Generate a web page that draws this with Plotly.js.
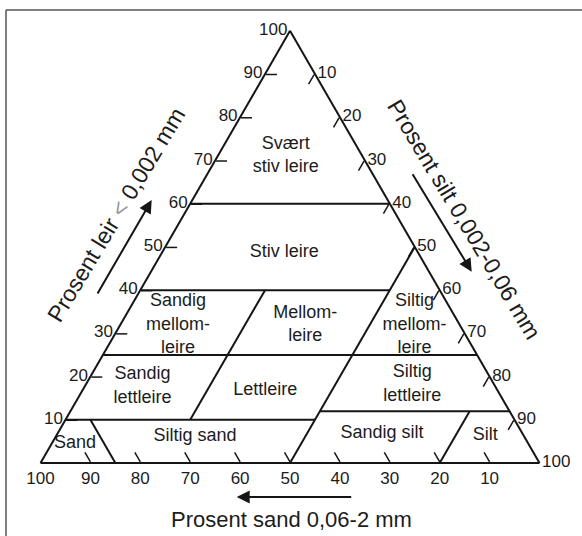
<!DOCTYPE html>
<html><head><meta charset="utf-8">
<script src="https://cdn.plot.ly/plotly-3.0.1.min.js"></script>
<style>html,body{margin:0;padding:0;background:#fff}#chart{width:582px;height:536px}</style>
</head><body><div id="chart"></div>
<script>
// Class boundary segments as (clay, sand, silt); null separates segments
const boundaryClay = [60,60,null, 40,40,null, 25,25,null, 10,10,null, 12,12,null, 40,10,null, 50,0,null, 10,0,null, 12,0];
const boundarySand = [40,0,null, 60,10,null, 75,0,null, 90,40,null, 38,0,null, 35,65,null, 0,50,null, 85,85,null, 8,20];
const boundarySilt = [0,40,null, 0,50,null, 0,75,null, 0,50,null, 50,88,null, 25,25,null, 50,50,null, 5,15,null, 80,80];

// Class names and their label positions (clay, sand, silt)
const classNames = ["Svært<br>stiv leire","Stiv leire","Sandig<br>mellom-<br>leire","Mellom-<br>leire","Siltig<br>mellom-<br>leire","Sandig<br>lettleire","Lettleire","Siltig<br>lettleire","Sand","Siltig sand","Sandig silt","Silt"];
const labelClay = [71.1,48.7,31.9,31.9,31.9,17.7,16.7,18.2,4.5,6.1,6.9,6.3];
const labelSand = [15.3,26.8,56.5,31.0,9.1,70.7,46.6,16.4,90.85,66.0,28.1,7.7];
const labelSilt = [13.6,24.5,11.6,37.1,59.0,11.6,36.7,65.4,4.65,27.9,65.0,86.0];

// Tick values
const clayTicks = [10,20,30,40,50,60,70,80,90,100];
const sandTicks = [100,90,80,70,60,50,40,30,20,10];
const siltTicks = [10,20,30,40,50,60,70,80,90,100];

// Titles
const clayTitle = 'Prosent leir <span style="color:#999">&lt;</span> 0,002 mm';
const siltTitle = 'Prosent silt 0,002-0,06 mm';
const sandTitle = 'Prosent sand 0,06-2 mm';

const FONT = 'Liberation Sans, Arial, Helvetica, sans-serif';
const INK = '#1c1c1c';
const W = 582, H = 536;
const px = x => x / W;
const py = y => 1 - y / H;

const traces = [
  {type:'scatterternary', mode:'lines', a:boundaryClay, b:boundarySand, c:boundarySilt,
   line:{color:'#151515', width:2}, hoverinfo:'skip', showlegend:false, connectgaps:false},
  {type:'scatterternary', mode:'text', a:labelClay, b:labelSand, c:labelSilt, text:classNames,
   textfont:{family:FONT, size:18, color:INK}, textposition:'middle center', hoverinfo:'skip', showlegend:false}
];

function axis(vals){
  return {tickmode:'array', tickvals:vals, ticks:'inside', ticklen:11, tickwidth:1.5, tickcolor:'#151515',
    showgrid:false, showline:true, linecolor:'#151515', linewidth:2,
    tickfont:{family:FONT, size:17, color:INK}, title:{text:''}};
}

const layout = {
  width:W, height:H, margin:{l:0,r:0,t:0,b:0}, paper_bgcolor:'#fff', showlegend:false,
  font:{family:FONT},
  ternary:{sum:100, bgcolor:'rgba(0,0,0,0)',
    domain:{x:[0.0696,0.9270], y:[0.1362,0.9424]},
    aaxis:axis(clayTicks), baxis:axis(sandTicks), caxis:axis(siltTicks)},
  shapes:[
    {type:'line', xref:'paper', yref:'paper', x0:px(6), x1:1.05, y0:py(10), y1:py(10), line:{color:'#555', width:1.5}},
    {type:'line', xref:'paper', yref:'paper', x0:px(6), x1:px(6), y0:py(10), y1:-0.05, line:{color:'#555', width:1.5}}
  ],
  annotations:[
    {xref:'paper', yref:'paper', x:px(151.7), y:py(200), ax:-55, ay:95, text:'', showarrow:true, arrowhead:2, arrowsize:1.3, arrowwidth:2, arrowcolor:'#151515', standoff:0},
    {xref:'paper', yref:'paper', x:px(471.7), y:py(271.7), ax:-60, ay:-99, text:'', showarrow:true, arrowhead:2, arrowsize:1.3, arrowwidth:2, arrowcolor:'#151515', standoff:0},
    {xref:'paper', yref:'paper', x:px(236.7), y:py(497), ax:116, ay:0, text:'', showarrow:true, arrowhead:2, arrowsize:1.3, arrowwidth:2, arrowcolor:'#151515', standoff:0},
    {xref:'paper', yref:'paper', x:px(116), y:py(215), text:clayTitle, textangle:-59, showarrow:false, xanchor:'center', yanchor:'middle', font:{family:FONT, size:23, color:INK}},
    {xref:'paper', yref:'paper', x:px(464), y:py(219), text:siltTitle, textangle:59, showarrow:false, xanchor:'center', yanchor:'middle', font:{family:FONT, size:23, color:INK}},
    {xref:'paper', yref:'paper', x:px(291), y:py(519), text:sandTitle, showarrow:false, xanchor:'center', yanchor:'middle', font:{family:FONT, size:22, color:INK}}
  ]
};

Plotly.newPlot('chart', traces, layout, {displayModeBar:false, staticPlot:true});
</script>
</body></html>
